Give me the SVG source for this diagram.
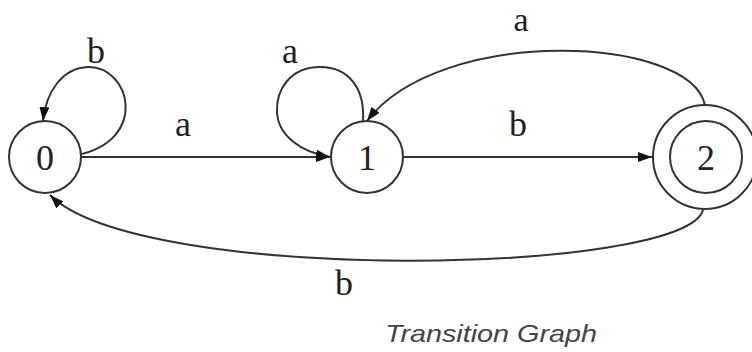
<svg xmlns="http://www.w3.org/2000/svg" width="752" height="352" viewBox="0 0 752 352">
<defs>
<marker id="arr" viewBox="0 0 14 10" refX="14" refY="5" markerWidth="14" markerHeight="10" markerUnits="userSpaceOnUse" orient="auto">
<path d="M0,0 L14,5 L0,10 z" fill="#111"/>
</marker>
<style>
.st{fill:#fff;stroke:#333;stroke-width:2}
.e{fill:none;stroke:#333;stroke-width:2;marker-end:url(#arr)}
.lb{font-family:"Liberation Serif","Times New Roman",serif;font-size:36px;fill:#222;text-anchor:middle}
.cap{font-family:"Liberation Sans",Arial,sans-serif;font-style:italic;font-size:24px;fill:#444}
</style>
</defs>
<rect width="752" height="352" fill="#fff"/>
<g id="connectors">
<path class="e" d="M75,157 L330,157"/>
<path class="e" d="M403,157 L652,157"/>
<path class="e" d="M77,155 C150,140 130,66 88,67 C62,68 46,92 43,121"/>
<path class="e" d="M363,121 C365,90 350,67 320,67 C290,67 276,90 277,112 C278,135 300,152 330,157"/>
<path class="e" d="M705,105 C690,35 440,25 367,121"/>
<path class="e" d="M703,210 C685,275 140,285 50,195"/>
<text class="lb" x="183" y="136">a</text>
<text class="lb" x="96" y="63">b</text>
<text class="lb" x="290" y="63">a</text>
<text class="lb" x="521" y="31" style="font-size:34px">a</text>
<text class="lb" x="518" y="136">b</text>
<text class="lb" x="344" y="295">b</text>
</g>
<g id="node0">
<circle class="st" cx="45" cy="157" r="36"/>
<text class="lb" x="45" y="170">0</text>
</g>
<g id="node1">
<circle class="st" cx="367" cy="157" r="36"/>
<text class="lb" x="367" y="170">1</text>
</g>
<g id="node2">
<circle class="st" cx="705" cy="157" r="52"/>
<circle class="st" cx="706" cy="157" r="36"/>
<text class="lb" x="706" y="170">2</text>
</g>
<text class="cap" x="385" y="342" textLength="212" lengthAdjust="spacingAndGlyphs">Transition Graph</text>
</svg>
